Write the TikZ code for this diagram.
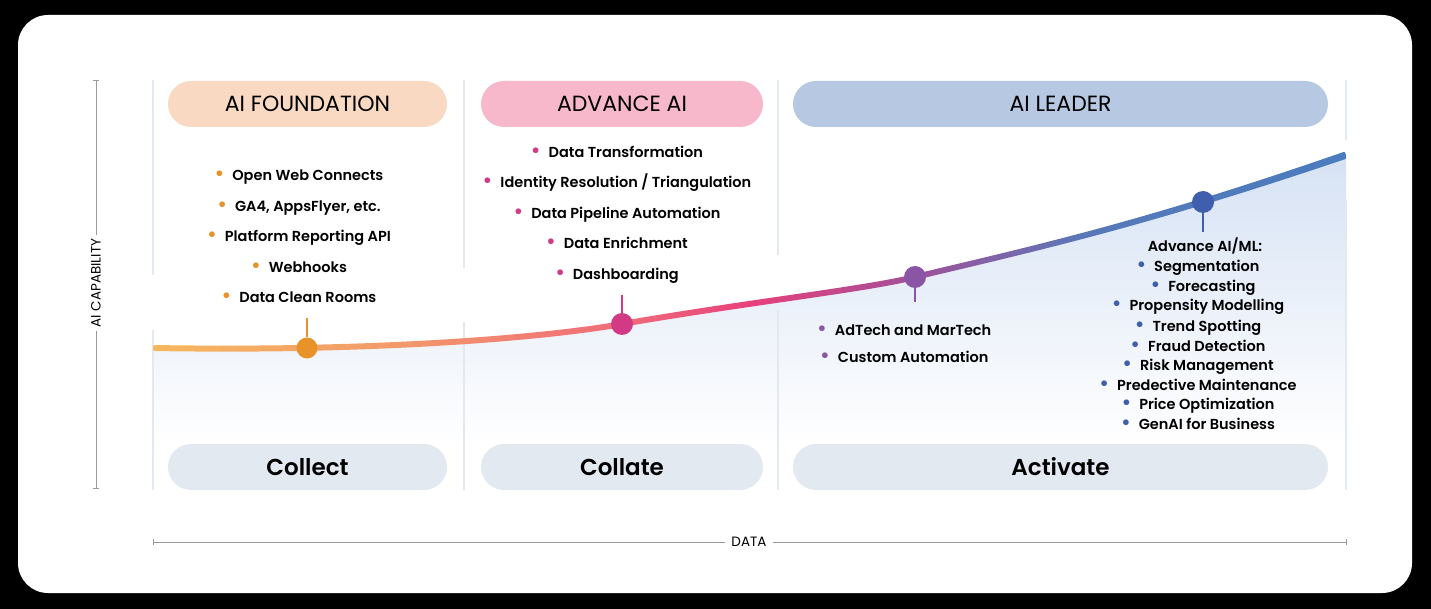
\documentclass[tikz,border=0pt]{standalone}
\usepackage{fontspec}
\setmainfont{Poppins}
\newfontfamily\semib{Poppins SemiBold}
\usetikzlibrary{calc}
\definecolor{cor}{HTML}{E8922A}
\definecolor{cpk}{HTML}{D23A86}
\definecolor{cpu}{HTML}{8A55A5}
\definecolor{cbl}{HTML}{3F5FAE}
\definecolor{gl}{HTML}{E3E9F0}
\definecolor{ax}{HTML}{9A9A9A}
\definecolor{g1}{HTML}{F6B85E}
\definecolor{g2}{HTML}{F39A6A}
\definecolor{g3}{HTML}{EF6A7A}
\definecolor{g4}{HTML}{E8407C}
\definecolor{g5}{HTML}{A0509A}
\definecolor{g6}{HTML}{5878B8}
\definecolor{g7}{HTML}{4A7CBE}
\pgfdeclarehorizontalshading{curveshade}{100bp}{color(0bp)=(g1); color(25bp)=(g1); color(35bp)=(g2); color(45bp)=(g3); color(50bp)=(g4); color(57bp)=(g5); color(64bp)=(g6); color(75bp)=(g7); color(100bp)=(g7)}
\newcommand\bul[1]{\textcolor{#1}{\scalebox{1.4}{\textbullet}}\hspace{8pt}}
\tikzset{
 pill/.style={rounded corners=23pt, minimum height=46pt, inner sep=0pt},
 head/.style={pill, font=\fontsize{22}{25}\selectfont},
 foot/.style={pill, fill=gl, font=\semib\fontsize{23}{26}\selectfont},
 item/.style={font=\semib\fontsize{14.5}{16}\selectfont, inner sep=0pt, anchor=base},
 grid/.style={draw=gl, line width=2pt},
 axis/.style={draw=ax, line width=0.8pt},
 stem/.style={line width=2pt},
}
\begin{document}
\begin{tikzpicture}[x=1pt,y=-1pt]
\useasboundingbox[fill=black] (0,0) rectangle (1431,609);
\fill[white, rounded corners=30pt] (18,15) rectangle (1412,593);
% under-curve fill
\shade[top color={rgb,255:red,214;green,226;blue,244}, bottom color=white]
  (153,348) .. controls (400,352) and (560,335) .. (622,324)
  .. controls (750,302) and (860,290) .. (915,277)
  .. controls (1050,245) and (1150,222) .. (1346,155) -- (1346,445) -- (153,445) -- cycle;
% grid lines
\draw[grid] (153,80) -- (153,275) (153,330) -- (153,490);
\draw[grid] (464,80) -- (464,268) (464,322) -- (464,490);
\draw[grid] (778,80) -- (778,255) (778,310) -- (778,490);
\draw[grid] (1346,80) -- (1346,140) (1346,200) -- (1346,490);
% curve band
\path[shading=curveshade, rounded corners=2pt]
  (153,345) .. controls (400,349) and (560,332) .. (622,321)
  .. controls (750,299) and (860,287) .. (915,274)
  .. controls (1050,242) and (1150,219) .. (1345,151.5)
  -- (1347,158.5)
  .. controls (1150,225) and (1050,248) .. (915,280)
  .. controls (860,293) and (750,305) .. (622,327)
  .. controls (560,338) and (400,355) .. (153,351) -- cycle;
% markers
\coordinate (s1) at (307,318); \coordinate (s2) at (622,295);
\coordinate (s3) at (915,302); \coordinate (s4) at (1203,232);
\node[circle, fill=cor, minimum size=21pt, inner sep=0pt] (m1) at (307,348) {};
\node[circle, fill=cpk, minimum size=22pt, inner sep=0pt] (m2) at (622,324) {};
\node[circle, fill=cpu, minimum size=22pt, inner sep=0pt] (m3) at (915,277) {};
\node[circle, fill=cbl, minimum size=22pt, inner sep=0pt] (m4) at (1203,202) {};
\draw[stem, cor] (m1) -- (s1);
\draw[stem, cpk] (m2) -- (s2);
\draw[stem, cpu] (m3) -- (s3);
\draw[stem, cbl] (m4) -- (s4);
% headers
\node[head, fill={rgb,255:red,249;green,217;blue,194}, minimum width=279pt] (h1) at (307.5,104) {AI FOUNDATION};
\node[head, fill={rgb,255:red,247;green,184;blue,203}, minimum width=282pt] (h2) at (622,104) {ADVANCE AI};
\node[head, fill={rgb,255:red,183;green,201;blue,226}, minimum width=535pt] (h3) at (1060.5,104) {AI LEADER};
\node[foot, minimum width=279pt] (f1) at (307.5,467) {Collect};
\node[foot, minimum width=282pt] (f2) at (622,467) {Collate};
\node[foot, minimum width=535pt] (f3) at (1060.5,467) {Activate};
% column 1
\node[item] (a1) at (299,181) {\bul{cor}Open Web Connects};
\node[item] (a2) at (299,212) {\bul{cor}GA4, AppsFlyer, etc.};
\node[item] (a3) at (299,242) {\bul{cor}Platform Reporting API};
\node[item] (a4) at (299,273) {\bul{cor}Webhooks};
\node[item] (a5) at (299,303) {\bul{cor}Data Clean Rooms};
% column 2
\node[item] (b1) at (617,158) {\bul{cpk}Data Transformation};
\node[item] (b2) at (617,188) {\bul{cpk}Identity Resolution / Triangulation};
\node[item] (b3) at (617,219) {\bul{cpk}Data Pipeline Automation};
\node[item] (b4) at (617,249) {\bul{cpk}Data Enrichment};
\node[item] (b5) at (617,280) {\bul{cpk}Dashboarding};
% column 3
\node[item, anchor=base west] (c1) at (817,335) {\bul{cpu}AdTech and MarTech};
\node[item, anchor=base west] (c2) at (820,362) {\bul{cpu}Custom Automation};
\node[item] (d0) at (1205,252) {Advance AI/ML:};
\node[item] (d1) at (1198,272) {\bul{cbl}Segmentation};
\node[item] (d2) at (1203,292) {\bul{cbl}Forecasting};
\node[item] (d3) at (1198,311) {\bul{cbl}Propensity Modelling};
\node[item] (d4) at (1198,331) {\bul{cbl}Trend Spotting};
\node[item] (d5) at (1198,351) {\bul{cbl}Fraud Detection};
\node[item] (d6) at (1198,370) {\bul{cbl}Risk Management};
\node[item] (d7) at (1198,390) {\bul{cbl}Predective Maintenance};
\node[item] (d8) at (1198,409) {\bul{cbl}Price Optimization};
\node[item] (d9) at (1198,429) {\bul{cbl}GenAI for Business};
% axes
\node[rotate=90, font=\fontsize{13.5}{15}\selectfont, inner sep=4pt] (yl) at (96,283) {AI CAPABILITY};
\draw[axis] (yl.east) -- (96,80) (93,80) -- (99,80);
\draw[axis] (yl.west) -- (96,488) (93,488) -- (99,488);
\node[font=\fontsize{13.5}{15}\selectfont, inner sep=6pt] (xl) at (749,542) {DATA};
\draw[axis] (xl.west) -- (153,542) (153,539) -- (153,545);
\draw[axis] (xl.east) -- (1346,542) (1346,539) -- (1346,545);
\end{tikzpicture}
\end{document}
